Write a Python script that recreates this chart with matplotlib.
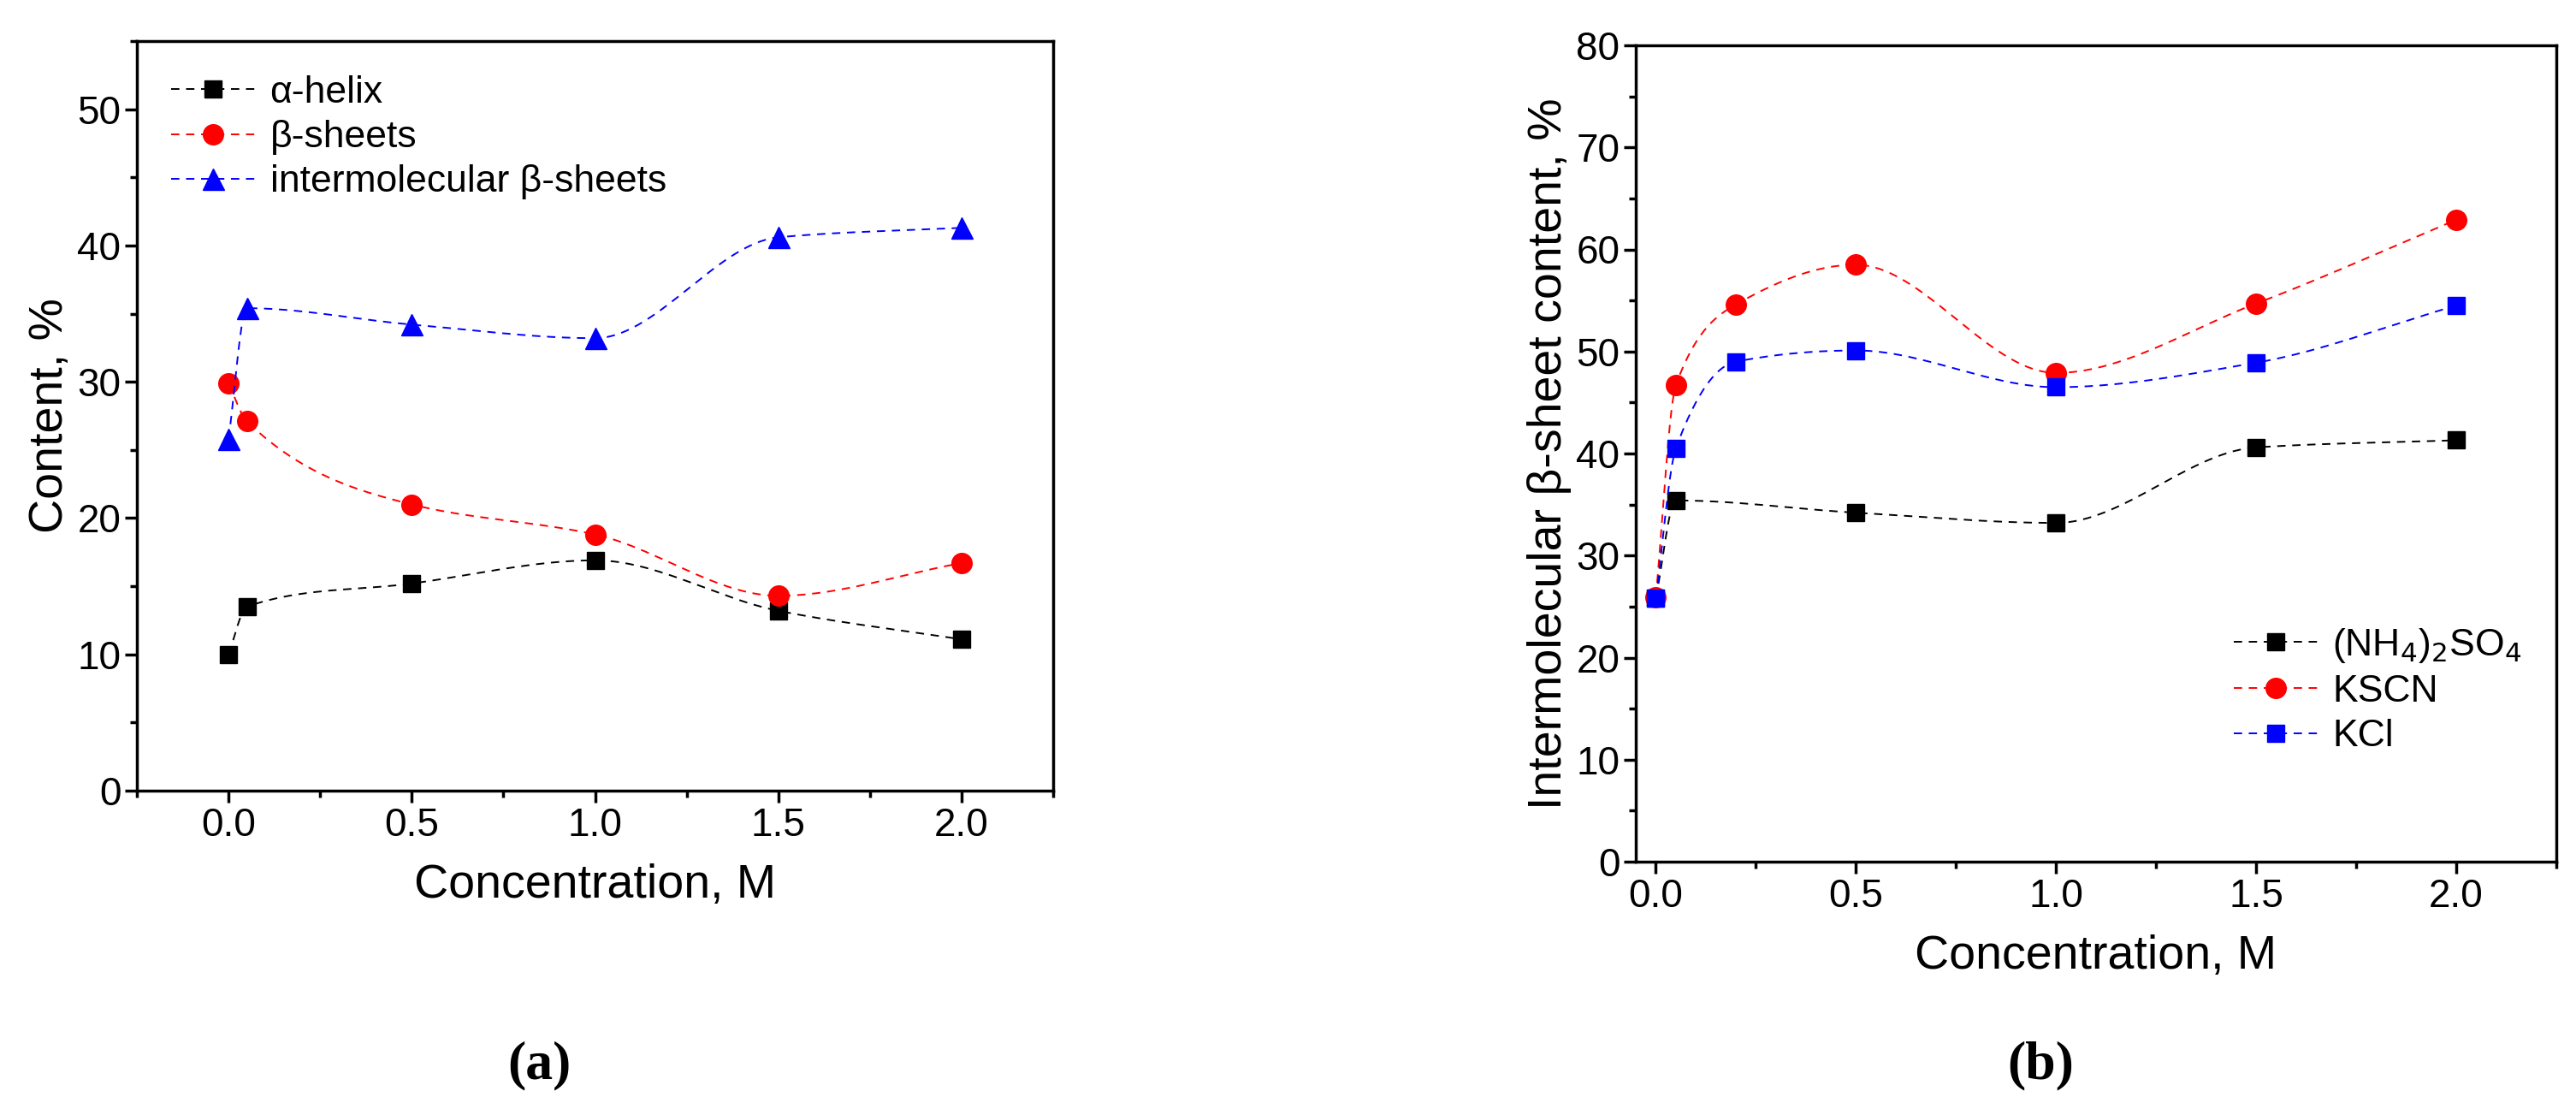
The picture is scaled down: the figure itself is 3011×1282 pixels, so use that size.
import numpy as np
import matplotlib.pyplot as plt
from matplotlib.ticker import MultipleLocator

# panel (a)
conc_a = [0, 0.05, 0.5, 1.0, 1.5, 2.0]
alpha_helix = [10.0, 13.5, 15.2, 16.9, 13.2, 11.1]
beta_sheets = [29.9, 27.1, 21.0, 18.8, 14.3, 16.7]
inter_beta = [25.8, 35.4, 34.2, 33.2, 40.6, 41.3]

# panel (b)
conc_nh4 = [0, 0.05, 0.5, 1.0, 1.5, 2.0]
nh4_so4 = [25.8, 35.4, 34.2, 33.2, 40.6, 41.3]
conc_salt = [0, 0.05, 0.2, 0.5, 1.0, 1.5, 2.0]
kscn = [25.9, 46.7, 54.6, 58.5, 47.9, 54.7, 62.9]
kcl = [25.8, 40.5, 49.0, 50.1, 46.5, 48.9, 54.5]


def pchip(x, y, n=400):
    # shape-preserving cubic through the points (no overshoot)
    x = np.asarray(x, float); y = np.asarray(y, float)
    h = np.diff(x); d = np.diff(y) / h
    m = np.zeros_like(y)
    m[0], m[-1] = d[0], d[-1]
    for i in range(1, len(x) - 1):
        if d[i - 1] * d[i] > 0:
            w1 = 2 * h[i] + h[i - 1]; w2 = h[i] + 2 * h[i - 1]
            m[i] = (w1 + w2) / (w1 / d[i - 1] + w2 / d[i])
    xs = np.linspace(x[0], x[-1], n)
    j = np.clip(np.searchsorted(x, xs) - 1, 0, len(x) - 2)
    t = (xs - x[j]) / h[j]
    h00 = 2 * t**3 - 3 * t**2 + 1; h10 = t**3 - 2 * t**2 + t
    h01 = -2 * t**3 + 3 * t**2; h11 = t**3 - t**2
    ys = h00 * y[j] + h10 * h[j] * m[j] + h01 * y[j + 1] + h11 * h[j] * m[j + 1]
    return xs, ys


plt.rcParams['font.family'] = ['Liberation Sans', 'DejaVu Sans']
fig = plt.figure(figsize=(30.11, 12.82), dpi=100)
ax1 = fig.add_axes([160 / 3011, 1 - 924 / 1282, 1071 / 3011, 876 / 1282])
ax2 = fig.add_axes([1912 / 3011, 1 - 1007 / 1282, 1076 / 3011, 954 / 1282])


def draw(ax, x, y, color, marker, label, ms=15):
    xs, ys = pchip(x, y)
    ax.plot(xs, ys, '--', color=color, lw=1.4, dashes=(5, 4))
    ax.plot(x, y, marker, color=color, ms=ms, ls='none')
    ax.plot([], [], '--', color=color, marker=marker, ms=ms, lw=1.4, dashes=(5, 4), label=label)


draw(ax1, conc_a, alpha_helix, 'black', 's', 'α-helix')
draw(ax1, conc_a, beta_sheets, 'red', 'o', 'β-sheets', 17)
draw(ax1, conc_a, inter_beta, 'blue', '^', 'intermolecular β-sheets', 18)
ax1.set_xlim(-0.25, 2.25); ax1.set_ylim(0, 55)
ax1.set_ylabel('Content, %', fontsize=40)
ax1.yaxis.set_major_locator(MultipleLocator(10))
ax1.legend(loc='upper left', fontsize=32, frameon=False, handlelength=2.2,
           borderaxespad=0.5, labelspacing=0.25, handletextpad=0.4)

draw(ax2, conc_nh4, nh4_so4, 'black', 's', '(NH$_4$)$_2$SO$_4$')
draw(ax2, conc_salt, kscn, 'red', 'o', 'KSCN', 17)
draw(ax2, conc_salt, kcl, 'blue', 's', 'KCl')
ax2.set_xlim(-0.05, 2.25); ax2.set_ylim(0, 80)
ax2.set_ylabel('Intermolecular β-sheet content, %', fontsize=40)
ax2.yaxis.set_major_locator(MultipleLocator(10))
ax2.legend(loc='lower right', bbox_to_anchor=(1.0, 0.09), fontsize=32, frameon=False,
           handlelength=2.2, labelspacing=0.25, handletextpad=0.4)

for ax in (ax1, ax2):
    ax.set_xlabel('Concentration, M', fontsize=40, labelpad=16)
    ax.xaxis.set_minor_locator(MultipleLocator(0.25))
    ax.yaxis.set_minor_locator(MultipleLocator(5))
    ax.set_xticks([0, 0.5, 1.0, 1.5, 2.0])
    ax.set_xticklabels(['0.0', '0.5', '1.0', '1.5', '2.0'])
    ax.tick_params(which='both', direction='out', width=2.5, labelsize=33)
    ax.tick_params(which='major', length=10)
    ax.tick_params(which='minor', length=6)
    for s in ax.spines.values():
        s.set_linewidth(2.5)

fig.text(630 / 3011, 1 - 1245 / 1282, '(a)', fontsize=46, family='Liberation Serif',
         weight='bold', ha='center', va='center')
fig.text(2385 / 3011, 1 - 1245 / 1282, '(b)', fontsize=46, family='Liberation Serif',
         weight='bold', ha='center', va='center')
fig.savefig('out.png', dpi=100)
